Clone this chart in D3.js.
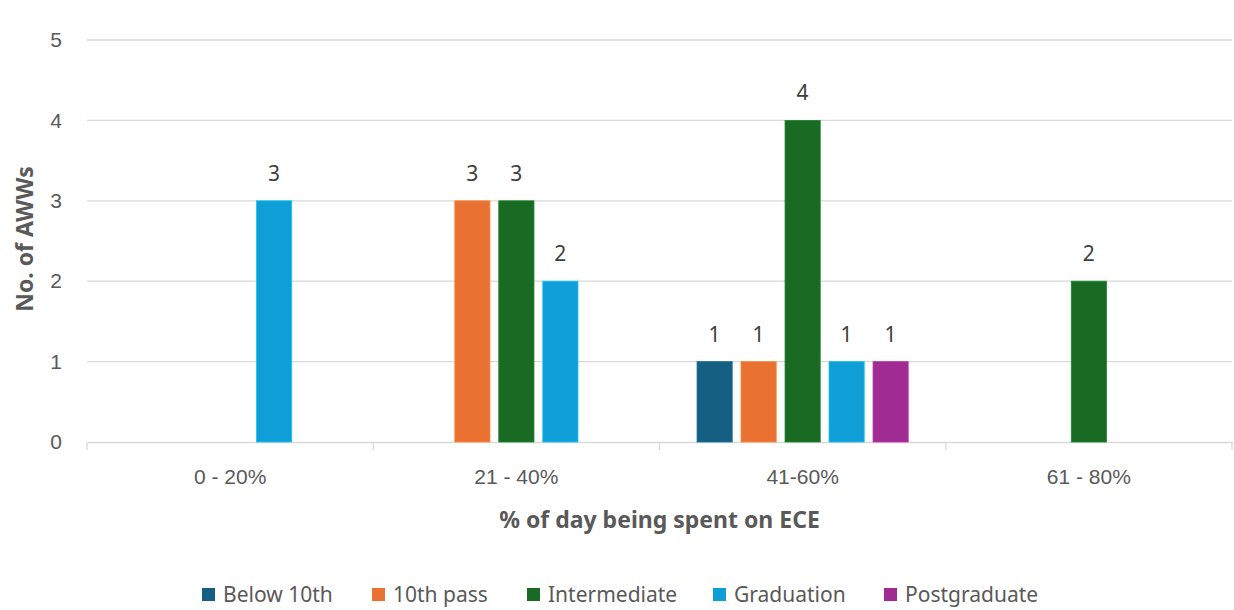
<!DOCTYPE html>
<html>
<head>
<meta charset="utf-8">
<script src="https://cdn.jsdelivr.net/npm/d3@7"></script>
<style>
  html, body { margin: 0; padding: 0; background: #fff; }
  svg { display: block; font-family: "Noto Sans", "Open Sans", sans-serif; }
</style>
</head>
<body>
<svg id="chart" width="1234" height="610"></svg>
<script>
// Share of day spent on ECE, by education level of the worker
const categories = ["0 - 20%", "21 - 40%", "41-60%", "61 - 80%"];
const seriesNames = ["Below 10th", "10th pass", "Intermediate", "Graduation", "Postgraduate"];
const belowTenth   = [0, 0, 1, 0];
const tenthPass    = [0, 3, 1, 0];
const intermediate = [0, 3, 4, 2];
const graduation   = [3, 2, 1, 0];
const postgraduate = [0, 0, 1, 0];
const yTicks = [0, 1, 2, 3, 4, 5];
const colors = ["#156082", "#E97132", "#196B24", "#0F9ED5", "#A02B93"];

const seriesValues = [belowTenth, tenthPass, intermediate, graduation, postgraduate];

const svg = d3.select("#chart");
const margin = { left: 87, right: 2, top: 40, bottom: 168 };
const W = 1234, H = 610;
const plotW = W - margin.left - margin.right;
const plotH = H - margin.top - margin.bottom;
const textColor = "#595959";

const g = svg.append("g").attr("transform", `translate(${margin.left},${margin.top})`);

const x0 = d3.scaleBand().domain(categories).range([0, plotW]).paddingInner(0).paddingOuter(0);
const x1 = d3.scaleBand().domain(seriesNames).range([0, 220]).paddingInner(0.2).paddingOuter(0.1);
const y = d3.scaleLinear().domain([0, 5]).range([plotH, 0]);

// gridlines
g.append("g").selectAll("line").data(yTicks.filter(t => t > 0)).join("line")
  .attr("x1", 0).attr("x2", plotW)
  .attr("y1", d => y(d)).attr("y2", d => y(d))
  .attr("stroke", "#d9d9d9").attr("stroke-width", 1.3);

// y tick labels
const yAxis = d3.axisLeft(y).tickValues(yTicks).tickSize(0).tickPadding(25).tickFormat(d3.format("d"));
const ya = g.append("g").call(yAxis);
ya.select(".domain").remove();
ya.selectAll("text").attr("fill", textColor).style("font-size", "21px");

// x axis baseline + category ticks
const xAxis = d3.axisBottom(x0).tickSize(0).tickPadding(27);
const xa = g.append("g").attr("transform", `translate(0,${plotH})`).call(xAxis);
xa.select(".domain").attr("stroke", "#d9d9d9").attr("stroke-width", 1.3);
xa.selectAll("text").attr("fill", textColor).style("font-size", "21px");
const bounds = categories.map(c => x0(c)).concat([plotW]);
g.append("g").selectAll("line").data(bounds).join("line")
  .attr("x1", d => d).attr("x2", d => d)
  .attr("y1", plotH).attr("y2", plotH + 8)
  .attr("stroke", "#d9d9d9").attr("stroke-width", 1.3);

// bars, slotted per series inside each category
const groupOffset = (x0.bandwidth() - x1.range()[1]) / 2;
const rows = [];
categories.forEach((c, ci) => {
  seriesNames.forEach((s, si) => {
    rows.push({ cat: c, series: s, value: seriesValues[si][ci], color: colors[si] });
  });
});
const nonZero = rows.filter(r => r.value > 0);

g.append("g").selectAll("rect").data(nonZero).join("rect")
  .attr("x", d => x0(d.cat) + groupOffset + x1(d.series))
  .attr("width", x1.bandwidth())
  .attr("y", d => y(d.value))
  .attr("height", d => y(0) - y(d.value))
  .attr("fill", d => d.color)
  .attr("stroke", d => d3.color(d.color).brighter(0.6))
  .attr("stroke-width", 0.8);

// value labels
g.append("g").selectAll("text").data(nonZero).join("text")
  .attr("x", d => x0(d.cat) + groupOffset + x1(d.series) + x1.bandwidth() / 2)
  .attr("y", d => y(d.value) - 20)
  .attr("text-anchor", "middle")
  .attr("fill", "#404040")
  .style("font-size", "21px")
  .text(d => d.value);

// axis titles
svg.append("text")
  .attr("x", margin.left + plotW / 2).attr("y", 528)
  .attr("text-anchor", "middle")
  .attr("fill", textColor).style("font-size", "23px").style("font-weight", "bold")
  .text("% of day being spent on ECE");

svg.append("text")
  .attr("transform", `translate(33,${margin.top + plotH / 2 - 2}) rotate(-90)`)
  .attr("text-anchor", "middle")
  .attr("fill", textColor).style("font-size", "23px").style("font-weight", "bold")
  .text("No. of AWWs");

// legend
const legendX = [202, 372, 527, 713, 884];
const lg = svg.append("g");
seriesNames.forEach((s, i) => {
  lg.append("rect").attr("x", legendX[i]).attr("y", 588).attr("width", 13).attr("height", 13).attr("fill", colors[i]);
  lg.append("text").attr("x", legendX[i] + 21).attr("y", 602)
    .attr("fill", textColor).style("font-size", "21px").text(s);
});
</script>
</body>
</html>
